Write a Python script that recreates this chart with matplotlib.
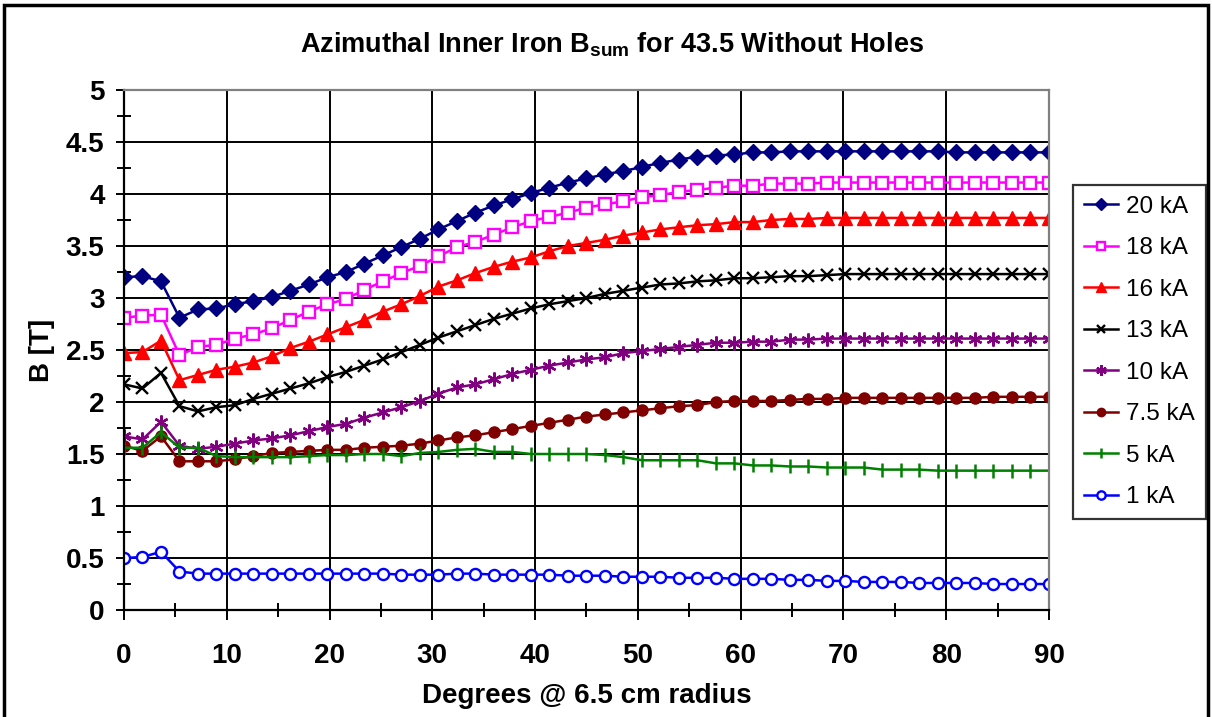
import numpy as np
import matplotlib
matplotlib.use("Agg")
import matplotlib.pyplot as plt
from matplotlib.patches import Rectangle

plt.rcParams['font.family'] = ['Liberation Sans', 'DejaVu Sans']
plt.rcParams['mathtext.fontset'] = 'custom'
plt.rcParams['mathtext.rm'] = 'Liberation Sans'
plt.rcParams['mathtext.bf'] = 'Liberation Sans:bold'

# angle in degrees, 51 points every 1.8 deg
degrees = [round(i * 1.8, 1) for i in range(51)]

b_20ka = [3.20, 3.21, 3.16, 2.81, 2.89, 2.90, 2.94, 2.97, 3.01, 3.07, 3.13,
          3.20, 3.25, 3.33, 3.41, 3.49, 3.57, 3.66, 3.74, 3.82, 3.89,
          3.95, 4.01, 4.06, 4.11, 4.15, 4.19, 4.22, 4.26, 4.30, 4.33,
          4.36, 4.37, 4.38, 4.40, 4.40, 4.41, 4.41, 4.41, 4.41, 4.41,
          4.41, 4.41, 4.41, 4.41, 4.40, 4.40, 4.40, 4.40, 4.40, 4.40]
b_18ka = [2.81, 2.83, 2.84, 2.45, 2.53, 2.55, 2.61, 2.65, 2.71, 2.79, 2.87,
          2.94, 2.99, 3.08, 3.16, 3.24, 3.31, 3.40, 3.49, 3.54, 3.61,
          3.68, 3.74, 3.78, 3.82, 3.87, 3.90, 3.93, 3.97, 3.99, 4.02,
          4.04, 4.06, 4.08, 4.08, 4.10, 4.10, 4.10, 4.11, 4.11, 4.11,
          4.11, 4.11, 4.11, 4.11, 4.11, 4.11, 4.11, 4.11, 4.11, 4.11]
b_16ka = [2.47, 2.48, 2.59, 2.21, 2.26, 2.31, 2.34, 2.38, 2.44, 2.52, 2.58,
          2.65, 2.72, 2.79, 2.87, 2.94, 3.02, 3.11, 3.17, 3.24, 3.30,
          3.35, 3.39, 3.45, 3.50, 3.53, 3.56, 3.60, 3.63, 3.66, 3.68,
          3.70, 3.71, 3.73, 3.73, 3.75, 3.76, 3.76, 3.77, 3.77, 3.77,
          3.77, 3.77, 3.77, 3.77, 3.77, 3.77, 3.77, 3.77, 3.77, 3.77]
b_13ka = [2.17, 2.13, 2.28, 1.96, 1.91, 1.95, 1.97, 2.03, 2.08, 2.13, 2.18,
          2.24, 2.29, 2.35, 2.41, 2.48, 2.55, 2.62, 2.68, 2.74, 2.80,
          2.85, 2.90, 2.94, 2.97, 3.00, 3.04, 3.07, 3.10, 3.13, 3.14,
          3.16, 3.17, 3.19, 3.19, 3.20, 3.21, 3.21, 3.22, 3.23, 3.23,
          3.23, 3.23, 3.23, 3.23, 3.23, 3.23, 3.23, 3.23, 3.23, 3.23]
b_10ka = [1.67, 1.64, 1.81, 1.58, 1.55, 1.57, 1.60, 1.63, 1.65, 1.68, 1.72,
          1.76, 1.79, 1.85, 1.90, 1.95, 2.01, 2.08, 2.14, 2.17, 2.22,
          2.27, 2.31, 2.35, 2.38, 2.41, 2.43, 2.47, 2.49, 2.51, 2.53,
          2.55, 2.57, 2.57, 2.58, 2.58, 2.60, 2.60, 2.61, 2.61, 2.61,
          2.61, 2.61, 2.61, 2.61, 2.61, 2.61, 2.61, 2.61, 2.61, 2.61]
b_7p5ka = [1.58, 1.53, 1.67, 1.43, 1.43, 1.43, 1.45, 1.48, 1.51, 1.52, 1.53,
           1.54, 1.54, 1.56, 1.57, 1.58, 1.60, 1.63, 1.66, 1.68, 1.71,
           1.74, 1.77, 1.80, 1.83, 1.86, 1.88, 1.90, 1.92, 1.94, 1.96,
           1.97, 2.00, 2.01, 2.01, 2.01, 2.02, 2.03, 2.03, 2.04, 2.04,
           2.04, 2.04, 2.04, 2.04, 2.04, 2.04, 2.05, 2.05, 2.05, 2.05]
b_5ka = [1.56, 1.56, 1.71, 1.56, 1.56, 1.48, 1.47, 1.47, 1.47, 1.47, 1.48,
         1.49, 1.49, 1.50, 1.50, 1.48, 1.51, 1.52, 1.54, 1.55, 1.52,
         1.52, 1.50, 1.50, 1.50, 1.50, 1.49, 1.47, 1.44, 1.44, 1.44,
         1.44, 1.41, 1.41, 1.39, 1.39, 1.38, 1.38, 1.37, 1.37, 1.37,
         1.35, 1.35, 1.35, 1.34, 1.34, 1.34, 1.34, 1.34, 1.34, 1.34]
b_1ka = [0.50, 0.51, 0.56, 0.37, 0.35, 0.35, 0.35, 0.35, 0.35, 0.35, 0.35,
         0.35, 0.35, 0.35, 0.35, 0.34, 0.34, 0.34, 0.35, 0.35, 0.34,
         0.34, 0.34, 0.34, 0.33, 0.33, 0.33, 0.32, 0.32, 0.32, 0.31,
         0.31, 0.31, 0.30, 0.30, 0.30, 0.29, 0.29, 0.28, 0.28, 0.27,
         0.27, 0.27, 0.26, 0.26, 0.26, 0.26, 0.25, 0.25, 0.25, 0.25]

labels = ['20 kA', '18 kA', '16 kA', '13 kA', '10 kA', '7.5 kA', '5 kA', '1 kA']

fig = plt.figure(figsize=(12.12, 7.17), dpi=100)
ax = fig.add_axes([0.1023, 0.1492, 0.7632, 0.7253])

lw = 1.8
ax.plot(degrees, b_20ka, color='#000080', lw=lw, marker='D', ms=8, label=labels[0])
ax.plot(degrees, b_18ka, color='#FF00FF', lw=lw, marker='s', ms=8, mfc='white', mew=1.7, label=labels[1])
ax.plot(degrees, b_16ka, color='#FF0000', lw=lw, marker='^', ms=10, label=labels[2])
ax.plot(degrees, b_13ka, color='black', lw=lw, marker='x', ms=8, mew=1.7, label=labels[3])
ax.plot(degrees, b_10ka, color='#800080', lw=lw, marker=(6, 2, 0), ms=10, mew=1.7, label=labels[4])
ax.plot(degrees, b_7p5ka, color='#800000', lw=lw, marker='o', ms=8, label=labels[5])
ax.plot(degrees, b_5ka, color='#008000', lw=lw, marker='|', ms=10, mew=1.8, label=labels[6])
ax.plot(degrees, b_1ka, color='#0000FF', lw=lw, marker='o', ms=8, mfc='white', mew=1.7, label=labels[7])

ax.set_xlim(0, 90)
ax.set_ylim(0, 5)
ax.set_xticks(np.arange(0, 91, 10))
ax.set_xticks(np.arange(5, 91, 10), minor=True)
ax.set_yticks(np.arange(0, 5.01, 0.5))
ax.set_yticklabels(['0', '0.5', '1', '1.5', '2', '2.5', '3', '3.5', '4', '4.5', '5'])
ax.set_yticks(np.arange(0.25, 5, 0.5), minor=True)
ax.grid(True, which='major', color='black', lw=1.4)
ax.set_axisbelow(True)

ax.tick_params(axis='x', which='major', direction='out', length=7, width=1.4, pad=17,
               labelsize=20)
ax.tick_params(axis='x', which='minor', direction='inout', length=10, width=1.4)
ax.tick_params(axis='y', which='major', direction='out', length=6, width=1.4, pad=8,
               labelsize=20)
ax.tick_params(axis='y', which='minor', direction='inout', length=10, width=1.4)
for lab in ax.get_xticklabels() + ax.get_yticklabels():
    lab.set_fontweight('bold')

for s in ['left', 'bottom']:
    ax.spines[s].set_color('black')
    ax.spines[s].set_linewidth(1.6)
for s in ['top', 'right']:
    ax.spines[s].set_color('#808080')
    ax.spines[s].set_linewidth(1.6)

ax.set_xlabel('Degrees @ 6.5 cm radius', fontsize=20, fontweight='bold', labelpad=10)
ax.set_ylabel('B [T]', fontsize=20, fontweight='bold', labelpad=8)
fig.text(0.505, 0.937, r'Azimuthal Inner Iron B$_{\mathbf{sum}}$ for 43.5 Without Holes',
         ha='center', va='center', fontsize=19.5, fontweight='bold')

leg = fig.legend(loc='upper left', bbox_to_anchor=(0.885, 0.742), fontsize=17.5,
                 frameon=True, fancybox=False, edgecolor='black', borderpad=0.45,
                 handlelength=1.4, handletextpad=0.35, labelspacing=0.8,
                 borderaxespad=0, markerscale=0.75)
leg.get_frame().set_linewidth(1.6)

fig.patches.append(Rectangle((0.003, -0.01), 0.994, 1.003, transform=fig.transFigure,
                             fill=False, edgecolor='black', lw=2.5))

fig.savefig('out.png', dpi=100)
